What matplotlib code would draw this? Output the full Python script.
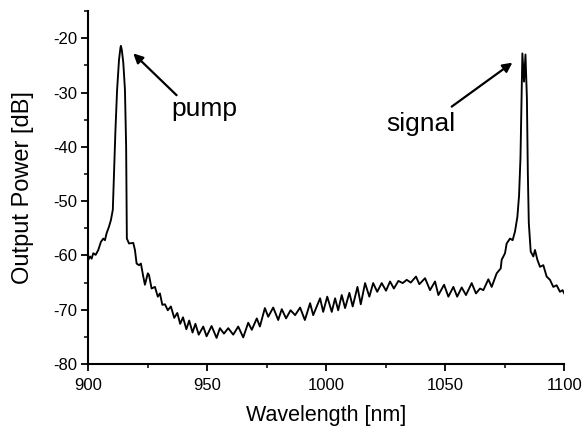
import matplotlib
matplotlib.use("Agg")
import matplotlib.pyplot as plt
from matplotlib.ticker import MultipleLocator

plt.rcParams["font.family"] = ["Liberation Sans", "DejaVu Sans"]
plt.rcParams["axes.unicode_minus"] = False

# spectrum (nm, dB)
wavelength = [
    900.0, 900.7, 901.4, 902.1, 903.1, 904.2, 905.3, 906.3, 907.0, 907.7,
    908.7, 909.5, 910.3, 910.8, 911.4, 912.1, 912.9, 913.5, 913.7, 914.1,
    914.7, 915.4, 915.9, 916.1, 916.2, 917.1, 918.9, 919.6, 920.3, 921.3,
    922.1, 923.1, 923.8, 925.0, 925.5, 926.6, 928.0, 929.2, 930.1, 931.1,
    932.2, 933.4, 934.7, 936.1, 937.4, 938.6, 939.8, 941.2, 942.4, 943.8,
    945.0, 946.4, 948.3, 949.7, 951.8, 953.9, 955.3, 957.0, 958.8, 960.9,
    963.0, 965.1, 967.2, 968.7, 970.8, 972.1, 974.2, 975.6, 977.7, 979.8,
    981.3, 983.1, 985.0, 986.9, 989.0, 991.0, 993.2, 994.5, 997.4, 998.7,
    1000.4, 1002.3, 1003.7, 1005.0, 1006.5, 1007.9, 1009.7, 1011.1, 1013.1, 1014.5,
    1016.3, 1018.1, 1019.7, 1021.4, 1023.3, 1025.1, 1026.8, 1028.4, 1030.3, 1032.1,
    1033.8, 1035.5, 1037.7, 1039.1, 1041.5, 1043.6, 1045.7, 1047.1, 1049.5, 1051.3,
    1053.4, 1055.0, 1056.9, 1058.7, 1061.1, 1062.9, 1064.6, 1066.0, 1068.1, 1069.5,
    1071.6, 1073.3, 1073.7, 1075.1, 1075.8, 1077.2, 1078.3, 1079.3, 1080.3, 1081.0,
    1081.6, 1082.0, 1082.4, 1083.1, 1083.7, 1084.3, 1084.7, 1085.1, 1085.9, 1087.0,
    1087.7, 1088.7, 1089.8, 1091.2, 1092.6, 1094.0, 1095.4, 1096.8, 1098.2, 1099.3,
    1100.0,
]
power = [
    -60.8, -60.2, -60.6, -59.6, -59.9, -59.0, -57.5, -56.9, -57.2, -55.9,
    -54.7, -53.5, -51.6, -45.0, -37.0, -29.5, -24.0, -21.8, -21.4, -22.2,
    -24.5, -29.5, -40.0, -50.0, -56.9, -57.8, -57.7, -59.0, -61.5, -61.8,
    -61.5, -63.9, -65.4, -63.3, -63.6, -66.1, -65.8, -67.6, -67.0, -69.1,
    -69.0, -70.1, -69.4, -71.5, -70.6, -72.6, -71.4, -73.6, -72.0, -74.2,
    -72.6, -74.6, -73.1, -74.9, -73.0, -75.2, -73.4, -74.4, -73.4, -74.6,
    -73.1, -75.1, -72.4, -73.7, -71.6, -73.1, -69.7, -71.3, -69.6, -71.9,
    -69.9, -71.6, -70.1, -71.0, -69.6, -71.9, -68.8, -71.0, -67.9, -70.4,
    -67.6, -70.4, -67.9, -70.1, -67.3, -69.7, -66.9, -69.4, -65.8, -69.0,
    -65.1, -67.6, -65.1, -66.7, -65.1, -66.5, -64.8, -66.1, -64.7, -65.1,
    -64.5, -65.0, -63.9, -65.3, -64.2, -66.4, -64.8, -67.3, -65.4, -67.6,
    -65.8, -67.6, -65.9, -67.3, -65.1, -67.0, -66.1, -66.4, -64.4, -65.8,
    -63.3, -62.4, -60.8, -59.6, -57.8, -56.9, -57.2, -55.6, -52.9, -49.0,
    -42.0, -32.0, -22.8, -28.0, -23.0, -31.0, -45.0, -54.0, -59.3, -60.2,
    -59.0, -60.8, -62.1, -61.8, -63.9, -64.5, -65.8, -65.5, -66.7, -66.4,
    -67.0,
]

fig = plt.figure(figsize=(5.84, 4.32), dpi=100)
ax = fig.add_axes([0.1512, 0.1574, 0.815, 0.817])

ax.plot(wavelength, power, color="black", lw=1.35, solid_joinstyle="round")

ax.set_xlim(900, 1100)
ax.set_ylim(-80, -15)
ax.xaxis.set_major_locator(MultipleLocator(50))
ax.xaxis.set_minor_locator(MultipleLocator(25))
ax.yaxis.set_minor_locator(MultipleLocator(5))
ax.set_yticks(range(-80, -19, 10))

for side in ("top", "right"):
    ax.spines[side].set_visible(False)
for side in ("left", "bottom"):
    ax.spines[side].set_linewidth(1.5)
ax.tick_params(which="major", direction="out", length=5, width=1.3,
               labelsize=12, pad=3)
ax.tick_params(axis="x", which="major", pad=5)
ax.tick_params(which="minor", direction="out", length=3, width=1.1)

ax.set_xlabel("Wavelength [nm]", fontsize=15.5, labelpad=9)
ax.set_ylabel("Output Power [dB]", fontsize=17, labelpad=14)

ax.annotate("", xy=(918.9, -22.8), xytext=(937.1, -30.5),
            arrowprops=dict(arrowstyle="-|>", color="black", lw=1.6,
                            mutation_scale=14, shrinkA=0, shrinkB=0))
ax.text(935.0, -34.3, "pump", fontsize=19, ha="left", va="baseline")

ax.annotate("", xy=(1078.2, -24.5), xytext=(1052.7, -32.6),
            arrowprops=dict(arrowstyle="-|>", color="black", lw=1.6,
                            mutation_scale=14, shrinkA=0, shrinkB=0))
ax.text(1025.4, -37.1, "signal", fontsize=19, ha="left", va="baseline")

fig.savefig("out.png", dpi=100)
